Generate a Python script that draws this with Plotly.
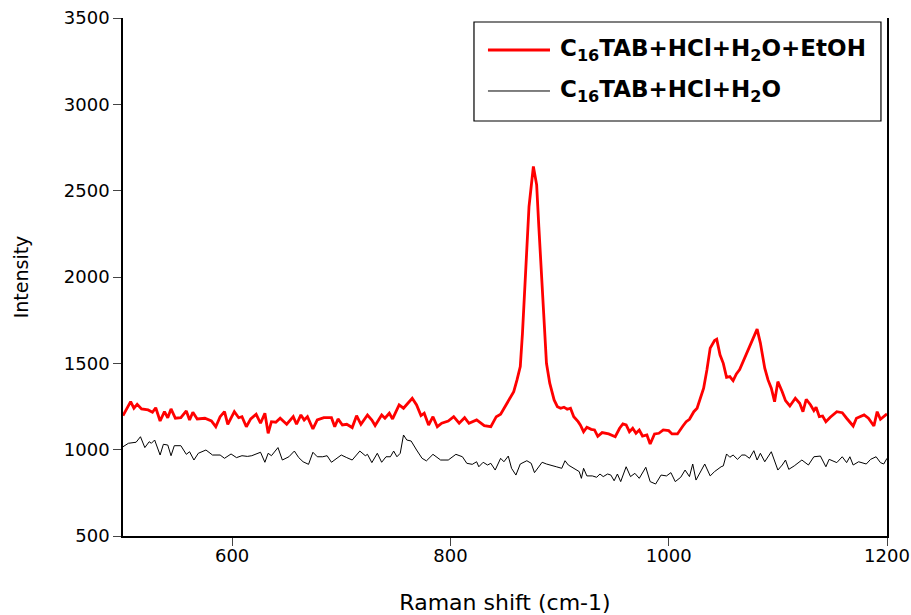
import plotly.graph_objects as go

# ---- data ----
red_shift = [500, 507, 510, 513, 517, 523, 527, 530, 534, 538, 541, 544, 548, 553, 558, 561, 564, 568, 575, 581,
             585, 589, 593, 596, 602, 606, 609, 613, 617, 622, 626, 630, 633, 636, 640, 644, 650, 656, 659, 663,
             666, 669, 674, 678, 684, 691, 694, 697, 701, 705, 710, 714, 718, 724, 728, 731, 737, 740, 744, 747,
             753, 757, 761, 765, 769, 773, 776, 780, 784, 788, 792, 798, 803, 808, 813, 817, 824, 831, 837, 842,
             846, 850, 855, 858, 861, 864, 866, 869, 872, 876, 879, 881, 885, 888, 891, 895, 898, 901, 904, 907,
             910, 913, 917, 919, 922, 925, 929, 932, 935, 939, 945, 951, 955, 958, 961, 964, 967, 970, 973, 976,
             980, 983, 987, 991, 995, 1000, 1003, 1008, 1013, 1016, 1019, 1023, 1026, 1030, 1032, 1035, 1038, 1042, 1044, 1047,
             1050, 1053, 1056, 1059, 1062, 1065, 1070, 1076, 1081, 1084, 1088, 1091, 1094, 1097, 1100, 1104, 1107, 1111, 1116, 1120,
             1123, 1126, 1130, 1133, 1135, 1138, 1141, 1144, 1148, 1154, 1159, 1163, 1169, 1172, 1179, 1183, 1188, 1191, 1194, 1200]
red_intensity = [1197, 1278, 1240, 1263, 1236, 1230, 1217, 1243, 1166, 1220, 1185, 1236, 1182, 1185, 1224, 1172, 1217, 1178, 1182, 1166,
                 1133, 1191, 1220, 1147, 1220, 1185, 1191, 1133, 1178, 1205, 1153, 1211, 1095, 1162, 1159, 1182, 1147, 1191, 1147, 1201,
                 1172, 1191, 1120, 1172, 1185, 1185, 1133, 1178, 1143, 1147, 1128, 1197, 1147, 1201, 1172, 1140, 1201, 1182, 1211, 1178,
                 1259, 1240, 1269, 1298, 1259, 1197, 1211, 1143, 1191, 1133, 1153, 1166, 1191, 1153, 1185, 1153, 1172, 1139, 1133, 1191,
                 1205, 1249, 1307, 1336, 1404, 1481, 1674, 2060, 2408, 2640, 2534, 2292, 1867, 1500, 1385, 1288, 1249, 1240, 1246, 1234,
                 1240, 1191, 1162, 1143, 1104, 1130, 1118, 1114, 1077, 1099, 1091, 1075, 1124, 1149, 1143, 1104, 1124, 1095, 1114, 1079,
                 1085, 1033, 1091, 1095, 1114, 1110, 1091, 1091, 1137, 1162, 1176, 1220, 1240, 1317, 1356, 1462, 1588, 1632, 1640, 1549,
                 1500, 1419, 1423, 1400, 1439, 1464, 1539, 1626, 1698, 1617, 1472, 1404, 1356, 1278, 1394, 1336, 1284, 1253, 1298, 1269,
                 1220, 1292, 1259, 1226, 1246, 1191, 1195, 1162, 1188, 1220, 1214, 1182, 1137, 1182, 1201, 1182, 1137, 1220, 1176, 1207]

black_shift = [500, 505, 512, 516, 520, 524, 526, 529, 534, 537, 541, 544, 547, 553, 558, 561, 565, 569, 576, 582,
               589, 593, 599, 604, 609, 614, 618, 626, 630, 633, 636, 642, 646, 652, 657, 661, 665, 670, 674, 678,
               683, 687, 691, 694, 700, 705, 710, 717, 722, 724, 728, 733, 737, 741, 745, 748, 751, 754, 757, 760,
               764, 769, 774, 778, 784, 791, 798, 805, 811, 815, 820, 824, 826, 830, 834, 837, 841, 846, 849, 853,
               856, 860, 864, 870, 874, 877, 880, 884, 888, 893, 897, 902, 905, 908, 913, 918, 920, 922, 925, 930,
               934, 937, 940, 944, 947, 950, 953, 956, 961, 965, 969, 973, 979, 983, 988, 993, 998, 1002, 1006, 1011,
               1015, 1019, 1022, 1025, 1030, 1033, 1038, 1042, 1048, 1050, 1053, 1056, 1059, 1063, 1067, 1070, 1074, 1078, 1081, 1084,
               1088, 1094, 1100, 1104, 1107, 1110, 1115, 1122, 1128, 1133, 1139, 1144, 1147, 1154, 1159, 1163, 1166, 1169, 1174, 1181,
               1185, 1190, 1194, 1197, 1200]
black_intensity = [1017, 1037, 1043, 1075, 1012, 1046, 1037, 1056, 969, 1031, 1027, 965, 1023, 1023, 973, 988, 940, 979, 998, 969,
                   969, 950, 975, 954, 965, 961, 965, 985, 927, 979, 965, 1012, 940, 959, 992, 954, 930, 915, 985, 959,
                   959, 965, 927, 940, 969, 954, 940, 992, 965, 973, 925, 979, 927, 959, 959, 992, 959, 979, 1085, 1056,
                   1050, 998, 950, 935, 973, 940, 940, 973, 959, 921, 915, 930, 901, 927, 911, 921, 882, 950, 930, 963,
                   892, 853, 917, 936, 921, 867, 892, 927, 917, 906, 901, 892, 936, 911, 892, 873, 834, 892, 848, 848,
                   840, 859, 844, 859, 853, 820, 859, 815, 901, 844, 863, 834, 898, 815, 801, 853, 848, 867, 815, 840,
                   882, 844, 917, 824, 882, 917, 848, 873, 901, 906, 975, 956, 969, 944, 969, 969, 950, 994, 940, 979,
                   930, 988, 882, 911, 940, 886, 906, 940, 911, 959, 963, 901, 944, 925, 959, 925, 959, 911, 930, 917,
                   944, 959, 925, 917, 950]

label_red = "<b>C<sub>16</sub>TAB+HCl+H<sub>2</sub>O+EtOH</b>"
label_black = "<b>C<sub>16</sub>TAB+HCl+H<sub>2</sub>O</b>"

x_ticks = [600, 800, 1000, 1200]
y_ticks = [500, 1000, 1500, 2000, 2500, 3000, 3500]

fig = go.Figure()
fig.add_trace(go.Scatter(x=black_shift, y=black_intensity, mode="lines",
                         line=dict(color="black", width=1), name=label_black, showlegend=False))
fig.add_trace(go.Scatter(x=red_shift, y=red_intensity, mode="lines",
                         line=dict(color="#ff0000", width=2.8), name=label_red, showlegend=False))

font_family = "DejaVu Sans, Liberation Sans, Arial, sans-serif"

fig.update_layout(
    width=911, height=615,
    margin=dict(l=123, r=24, t=18, b=79, autoexpand=False),
    paper_bgcolor="white", plot_bgcolor="white",
    font=dict(family=font_family, color="black", size=18),
    xaxis=dict(range=[500, 1200], tickvals=x_ticks, ticks="outside", ticklen=8, tickwidth=1,
               showline=True, linecolor="black", linewidth=1.5, showgrid=False, zeroline=False,
               automargin=False, ticklabelstandoff=-5,
               tickfont=dict(size=18), title=dict(text="Raman shift (cm-1)", font=dict(size=22), standoff=30)),
    yaxis=dict(range=[500, 3500], tickvals=y_ticks, ticks="outside", ticklen=8, tickwidth=1,
               showline=True, linecolor="black", linewidth=1.5, mirror=True, showgrid=False, zeroline=False,
               automargin=False,
               tickfont=dict(size=18), title=dict(text="Intensity", font=dict(size=19), standoff=30)),
    showlegend=False,
)

# legend drawn as box + sample lines + text
fig.add_shape(type="rect", xref="paper", yref="paper", x0=0.4594, x1=0.9921, y0=0.8012, y1=0.9923,
              line=dict(color="black", width=1.2), fillcolor="white")
fig.add_shape(type="line", xref="paper", yref="paper", x0=0.4777, x1=0.5589, y0=0.9382, y1=0.9382,
              line=dict(color="#ff0000", width=2.8))
fig.add_shape(type="line", xref="paper", yref="paper", x0=0.4777, x1=0.5589, y0=0.8591, y1=0.8591,
              line=dict(color="black", width=1))
fig.add_annotation(xref="paper", yref="paper", x=0.570, y=0.9382, text=label_red, showarrow=False,
                   xanchor="left", yanchor="middle", font=dict(size=23, family=font_family))
fig.add_annotation(xref="paper", yref="paper", x=0.570, y=0.8591, text=label_black, showarrow=False,
                   xanchor="left", yanchor="middle", font=dict(size=23, family=font_family))

fig.write_html("out.html", config={"displayModeBar": False},
               post_script="document.body.style.margin='0px';")
